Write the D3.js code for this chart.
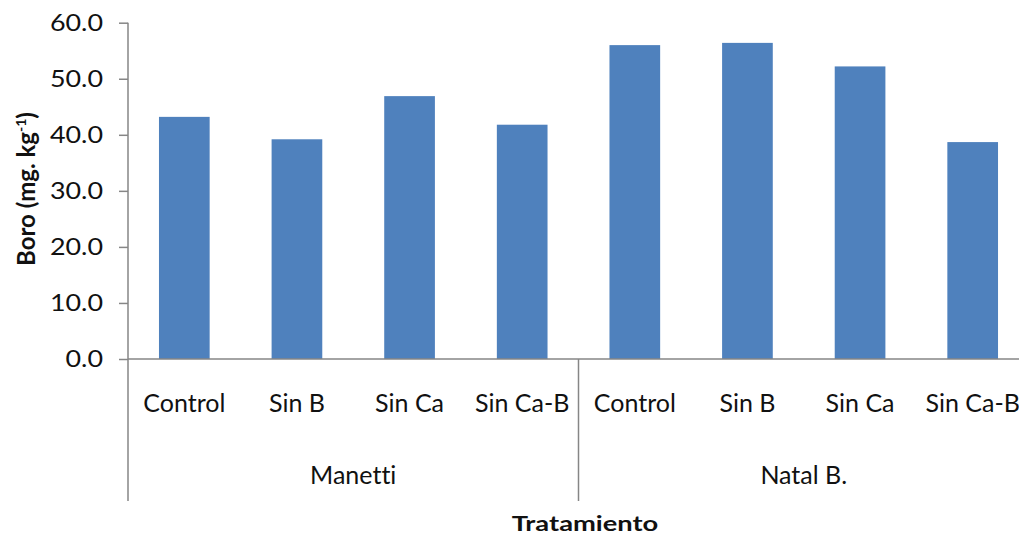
<!DOCTYPE html>
<html>
<head>
<meta charset="utf-8">
<script src="https://cdn.jsdelivr.net/npm/d3@7"></script>
<style>
  html, body { margin: 0; padding: 0; background: #fff; }
  svg { display: block; font-family: Lato, "Open Sans", sans-serif; font-variant-ligatures: none; }
</style>
</head>
<body>
<svg id="chart" width="1019" height="536"></svg>
<script>
// Boron content per treatment, grouped by variety
const groups = ["Manetti", "Natal B."];
const treatments = ["Control", "Sin B", "Sin Ca", "Sin Ca-B"];
const manettiValues = [43.2, 39.2, 46.9, 41.8];
const natalValues = [56.0, 56.4, 52.2, 38.7];
const yTicks = [0, 10, 20, 30, 40, 50, 60];

const rows = [];
groups.forEach((g, gi) => {
  const vals = gi === 0 ? manettiValues : natalValues;
  treatments.forEach((t, ti) => rows.push({ group: g, treatment: t, value: vals[ti], idx: rows.length }));
});

const svg = d3.select("#chart");
const plotLeft = 128, plotRight = 1029, plotTop = 22.7, plotBottom = 359;
const axisColor = "#868686";
const textColor = "#111";

const x = d3.scaleBand()
  .domain(rows.map(d => d.idx))
  .range([plotLeft, plotRight])
  .paddingInner(0.55)
  .paddingOuter(0.275);

const y = d3.scaleLinear().domain([0, 60]).range([plotBottom, plotTop]);

// Bars
svg.append("g").selectAll("rect")
  .data(rows)
  .join("rect")
  .attr("x", d => x(d.idx))
  .attr("y", d => y(d.value))
  .attr("width", x.bandwidth())
  .attr("height", d => y(0) - y(d.value))
  .attr("fill", "#4F81BD");

// Y axis ticks and labels (labels drawn slightly widened)
const tickSize = 9, tickPad = 16, tickStretch = 1.12;
const yAxis = d3.axisLeft(y).tickValues(yTicks).tickFormat(d3.format(".1f")).tickSize(tickSize).tickPadding(tickPad);
const gy = svg.append("g").attr("transform", `translate(${plotLeft},0)`).call(yAxis);
gy.select(".domain").remove();
gy.selectAll(".tick line").attr("stroke", axisColor).attr("stroke-width", 1.5);
gy.selectAll(".tick text")
  .attr("font-size", 24)
  .attr("fill", textColor)
  .attr("font-family", "Lato, sans-serif")
  .attr("x", -(tickSize + tickPad) / tickStretch)
  .attr("transform", `scale(${tickStretch},1)`);

// Vertical axis line, extended down through the category area
svg.append("line")
  .attr("x1", plotLeft).attr("x2", plotLeft)
  .attr("y1", plotTop).attr("y2", 501)
  .attr("stroke", axisColor).attr("stroke-width", 1.5);

// Horizontal axis line
svg.append("line")
  .attr("x1", plotLeft).attr("x2", plotRight)
  .attr("y1", plotBottom).attr("y2", plotBottom)
  .attr("stroke", axisColor).attr("stroke-width", 1.5);

// Group separator between varieties
const sepX = x(treatments.length) - x.step() * x.paddingInner() / 2;
svg.append("line")
  .attr("x1", sepX).attr("x2", sepX)
  .attr("y1", plotBottom).attr("y2", 501)
  .attr("stroke", axisColor).attr("stroke-width", 1.5);

// Treatment labels
svg.append("g").selectAll("text")
  .data(rows)
  .join("text")
  .attr("x", d => x(d.idx) + x.bandwidth() / 2)
  .attr("y", 412)
  .attr("text-anchor", "middle")
  .attr("font-size", 25)
  .attr("fill", textColor)
  .text(d => d.treatment);

// Variety labels
svg.append("g").selectAll("text")
  .data(groups)
  .join("text")
  .attr("x", (g, gi) => {
    const first = x(gi * treatments.length);
    const last = x(gi * treatments.length + treatments.length - 1) + x.bandwidth();
    return (first + last) / 2;
  })
  .attr("y", 484)
  .attr("text-anchor", "middle")
  .attr("font-size", 25)
  .attr("fill", textColor)
  .text(g => g);

// Axis titles
svg.append("text")
  .attr("transform", "translate(585,531) scale(1.3,1)")
  .attr("text-anchor", "middle")
  .attr("font-size", 21)
  .attr("font-weight", "bold")
  .attr("fill", textColor)
  .text("Tratamiento");

const yt = svg.append("text")
  .attr("transform", "translate(35,189) rotate(-90)")
  .attr("text-anchor", "middle")
  .attr("font-size", 24)
  .attr("font-weight", "bold")
  .attr("fill", textColor);
yt.append("tspan").text("Boro (mg. kg");
yt.append("tspan").attr("font-size", 14).attr("dy", -9).text("-1");
yt.append("tspan").attr("dy", 9).text(")");
</script>
</body>
</html>
